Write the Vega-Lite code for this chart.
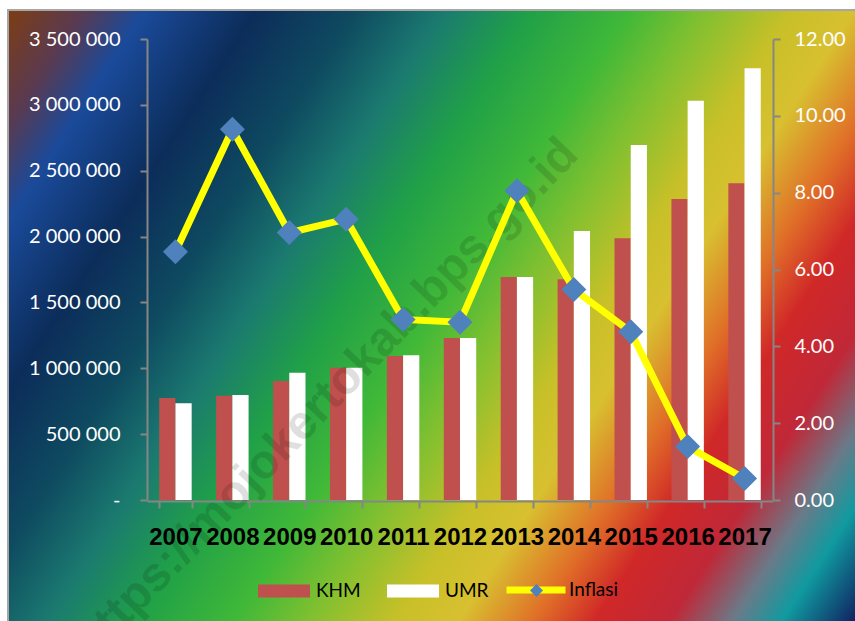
{
  "$schema": "https://vega.github.io/schema/vega-lite/v6.json",
  "width": 848,
  "height": 612,
  "autosize": {"type": "none"},
  "padding": {"left": 8, "top": 10, "right": 0, "bottom": 0},
  "background": "#ffffff",
  "config": {
    "view": {
      "fill": {
        "gradient": "linear",
        "x1": 0, "y1": 0, "x2": 1.204, "y2": 0.564,
        "stops": [
          {"offset": 0, "color": "#7e3d12"},
          {"offset": 0.06, "color": "#5a3a50"},
          {"offset": 0.11, "color": "#1a4a9a"},
          {"offset": 0.2, "color": "#0c2d5a"},
          {"offset": 0.28, "color": "#0e4a60"},
          {"offset": 0.35, "color": "#1b7a70"},
          {"offset": 0.42, "color": "#20a048"},
          {"offset": 0.5, "color": "#40b838"},
          {"offset": 0.56, "color": "#80c030"},
          {"offset": 0.63, "color": "#c8c028"},
          {"offset": 0.68, "color": "#d8c030"},
          {"offset": 0.74, "color": "#e07028"},
          {"offset": 0.79, "color": "#d02828"},
          {"offset": 0.85, "color": "#c02838"},
          {"offset": 0.9, "color": "#6a7a88"},
          {"offset": 0.94, "color": "#109aa0"},
          {"offset": 1, "color": "#102060"}
        ]
      },
      "stroke": "#a6a6a6",
      "strokeWidth": 2
    },
    "axis": {
      "grid": false,
      "domainColor": "#868686",
      "domainWidth": 2,
      "tickColor": "#868686",
      "tickWidth": 2,
      "tickSize": 7,
      "labelFont": "Lato",
      "labelFontSize": 20,
      "labelColor": "#ffffff"
    },
    "legend": {
      "padding": 0,
      "labelFont": "Lato",
      "labelFontSize": 19,
      "labelColor": "#000000"
    }
  },
  "datasets": {
    "wages": [
      {"year": "2007", "series": "KHM", "value": 774000},
      {"year": "2007", "series": "UMR", "value": 735000},
      {"year": "2008", "series": "KHM", "value": 791000},
      {"year": "2008", "series": "UMR", "value": 797000},
      {"year": "2009", "series": "KHM", "value": 904000},
      {"year": "2009", "series": "UMR", "value": 967000},
      {"year": "2010", "series": "KHM", "value": 1004000},
      {"year": "2010", "series": "UMR", "value": 1005000},
      {"year": "2011", "series": "KHM", "value": 1094000},
      {"year": "2011", "series": "UMR", "value": 1099000},
      {"year": "2012", "series": "KHM", "value": 1229000},
      {"year": "2012", "series": "UMR", "value": 1230000},
      {"year": "2013", "series": "KHM", "value": 1693000},
      {"year": "2013", "series": "UMR", "value": 1693000},
      {"year": "2014", "series": "KHM", "value": 1676000},
      {"year": "2014", "series": "UMR", "value": 2042000},
      {"year": "2015", "series": "KHM", "value": 1988000},
      {"year": "2015", "series": "UMR", "value": 2695000},
      {"year": "2016", "series": "KHM", "value": 2285000},
      {"year": "2016", "series": "UMR", "value": 3032000},
      {"year": "2017", "series": "KHM", "value": 2404000},
      {"year": "2017", "series": "UMR", "value": 3277000}
    ],
    "inflation": [
      {"year": "2007", "series": "Inflasi", "marker": "d", "inflasi": 6.46},
      {"year": "2008", "series": "Inflasi", "marker": "d", "inflasi": 9.65},
      {"year": "2009", "series": "Inflasi", "marker": "d", "inflasi": 6.96},
      {"year": "2010", "series": "Inflasi", "marker": "d", "inflasi": 7.31},
      {"year": "2011", "series": "Inflasi", "marker": "d", "inflasi": 4.70},
      {"year": "2012", "series": "Inflasi", "marker": "d", "inflasi": 4.63},
      {"year": "2013", "series": "Inflasi", "marker": "d", "inflasi": 8.05},
      {"year": "2014", "series": "Inflasi", "marker": "d", "inflasi": 5.48},
      {"year": "2015", "series": "Inflasi", "marker": "d", "inflasi": 4.38},
      {"year": "2016", "series": "Inflasi", "marker": "d", "inflasi": 1.39},
      {"year": "2017", "series": "Inflasi", "marker": "d", "inflasi": 0.56}
    ]
  },
  "layer": [
    {
      "data": {"name": "wages"},
      "mark": {"type": "bar"},
      "encoding": {
        "x": {
          "field": "year",
          "type": "ordinal",
          "scale": {"range": [139, 765], "paddingInner": 0.43, "paddingOuter": 0.215},
          "axis": {
            "title": null,
            "orient": "bottom",
            "offset": -121,
            "tickBand": "extent",
            "labelAngle": 0,
            "labelOverlap": false,
            "labelFont": "Liberation Sans",
            "labelFontWeight": "bold",
            "labelFontSize": 24,
            "labelColor": "#000000",
            "labelPadding": 17
          }
        },
        "xOffset": {"field": "series", "type": "nominal", "scale": {"domain": ["KHM", "UMR"]}},
        "y": {
          "field": "value",
          "type": "quantitative",
          "scale": {"domain": [0, 3500000], "range": [490, 29], "nice": false},
          "axis": {
            "title": null,
            "orient": "left",
            "offset": -139,
            "values": [0, 500000, 1000000, 1500000, 2000000, 2500000, 3000000, 3500000],
            "labelExpr": "datum.value == 0 ? '-' : replace(format(datum.value, ','), regexp(',', 'g'), ' ')",
            "labelPadding": 20
          }
        },
        "color": {
          "field": "series",
          "type": "nominal",
          "scale": {"domain": ["KHM", "UMR"], "range": ["#c0504d", "#ffffff"]},
          "legend": {
            "title": null,
            "orient": "none",
            "legendX": 250,
            "legendY": 555,
            "direction": "horizontal",
            "symbolType": "M-1,-0.25H1V0.25H-1Z",
            "symbolSize": 2704,
            "symbolStrokeWidth": 0,
            "labelOffset": 6,
            "columnPadding": 26
          }
        }
      }
    },
    {
      "data": {"values": [{"site": "https://mojokertokab.bps.go.id"}]},
      "mark": {
        "type": "text",
        "angle": -46,
        "dx": -28,
        "font": "Liberation Sans",
        "fontWeight": "bold",
        "fontSize": 48,
        "color": "#000000",
        "opacity": 0.12,
        "align": "center",
        "baseline": "middle"
      },
      "encoding": {
        "text": {"field": "site"},
        "x": {"datum": "2010", "type": "ordinal"},
        "y": {
          "datum": 920000,
          "type": "quantitative",
          "scale": {"domain": [0, 3500000], "range": [490, 29], "nice": false},
          "axis": null
        }
      }
    },
    {
      "data": {"name": "inflation"},
      "mark": {"type": "line", "strokeWidth": 7},
      "encoding": {
        "x": {"field": "year", "type": "ordinal"},
        "y": {
          "field": "inflasi",
          "type": "quantitative",
          "scale": {"domain": [0, 12], "range": [490, 29], "nice": false},
          "axis": {
            "title": null,
            "orient": "right",
            "offset": -83,
            "values": [0, 2, 4, 6, 8, 10, 12],
            "format": ".2f",
            "labelPadding": 14
          }
        },
        "stroke": {
          "field": "series",
          "type": "nominal",
          "scale": {"domain": ["Inflasi"], "range": ["#ffff00"]},
          "legend": {
            "title": null,
            "orient": "none",
            "legendX": 495,
            "legendY": 547,
            "symbolType": "M-1,0H1",
            "symbolSize": 3481,
            "symbolStrokeWidth": 7,
            "labelOffset": 0
          }
        }
      }
    },
    {
      "data": {"name": "inflation"},
      "mark": {"type": "point", "filled": true, "size": 625, "opacity": 1, "color": "#4f81bd"},
      "encoding": {
        "x": {"field": "year", "type": "ordinal"},
        "y": {
          "field": "inflasi",
          "type": "quantitative",
          "scale": {"domain": [0, 12], "range": [490, 29], "nice": false},
          "axis": null
        },
        "shape": {
          "field": "marker",
          "type": "nominal",
          "scale": {"domain": ["d"], "range": ["diamond"]},
          "legend": {
            "title": null,
            "orient": "none",
            "legendX": 519,
            "legendY": 571,
            "symbolSize": 169,
            "symbolFillColor": "#4f81bd",
            "symbolStrokeWidth": 0,
            "labelExpr": "''"
          }
        }
      }
    }
  ],
  "resolve": {"scale": {"y": "independent"}}
}
